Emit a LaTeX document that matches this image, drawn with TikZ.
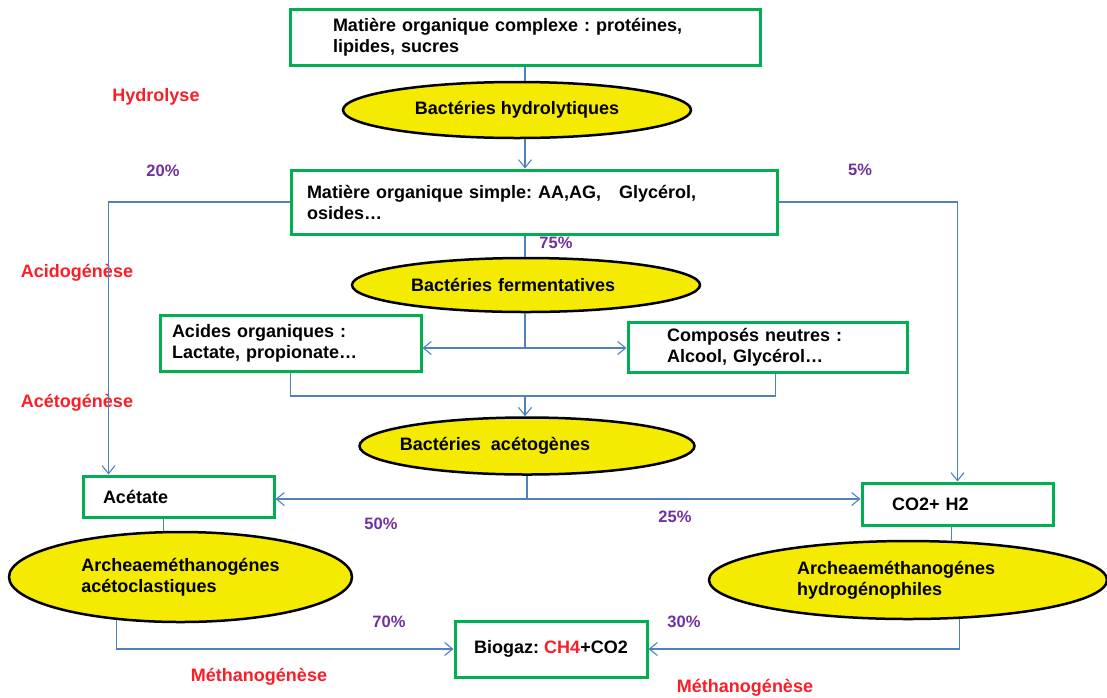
\documentclass[tikz,border=0pt]{standalone}
\usepackage{fontspec}
\setmainfont{Liberation Sans}
\usepackage{xcolor}
\usepackage{tikz}
\usetikzlibrary{shapes.geometric, arrows.meta}

\definecolor{boxgreen}{RGB}{0,176,80}
\definecolor{lineblue}{RGB}{79,129,189}
\definecolor{bactyellow}{RGB}{245,235,0}
\definecolor{phasered}{RGB}{250,30,40}
\definecolor{pctpurple}{RGB}{112,48,160}
\frenchspacing

\begin{document}
\begin{tikzpicture}[x=1pt, y=-1pt,
        font=\fontsize{18}{21}\selectfont\bfseries,
        box/.style={draw=boxgreen, line width=3pt, rectangle, inner sep=0pt, align=left},
        bact/.style={draw=black, line width=2.5pt, ellipse, fill=bactyellow, inner sep=0pt},
        phase/.style={text=phasered},
        pct/.style={text=pctpurple, font=\fontsize{16.5}{19}\selectfont\bfseries},
        link/.style={draw=lineblue, line width=1.1pt},
        flow/.style={link, -{Straight Barb[length=8pt,width=13pt]}}]
        \useasboundingbox (0,0) rectangle (1107,697);

        % Nodes for substrates and products
        \node [box, minimum width=470pt, minimum height=56pt, text width=384pt] (complex) at (525,37) {Matière organique complexe : protéines,\\lipides, sucres};
        \node [box, minimum width=486pt, minimum height=64pt, text width=454pt] (simple) at (534,202) {Matière organique simple: AA,AG,\ \ \ Glycérol,\\osides…};
        \node [box, minimum width=261pt, minimum height=56pt, text width=237pt] (acides) at (290.5,343) {Acides organiques :\\Lactate, propionate…};
        \node [box, minimum width=279pt, minimum height=50pt, text width=201pt] (neutres) at (767.5,347) {Composés neutres :\\Alcool, Glycérol…};
        \node [box, minimum width=191pt, minimum height=41pt, text width=151pt] (acetate) at (178.5,496.5) {Acétate};
        \node [box, minimum width=191pt, minimum height=42pt, text width=131pt] (co2) at (957.5,504) {CO2+ H2};
        \node [box, minimum width=192pt, minimum height=56pt] (biogaz) at (551,649) {Biogaz: \textcolor{phasered}{CH4}+CO2};

        % Nodes for bacteria
        \node [bact, minimum width=348pt, minimum height=56pt] (hydro) at (517,110) {Bactéries hydrolytiques};
        \node [bact, minimum width=348pt, minimum height=54pt, text width=230pt, align=left] (ferm) at (526,285) {Bactéries fermentatives};
        \node [bact, minimum width=335pt, minimum height=57pt] (aceto) at (527,446) {\hspace*{-64pt}Bactéries\ \ acétogènes};
        \node [bact, minimum width=343pt, minimum height=90pt, align=left] (acl) at (180.5,577) {Archeaeméthanogénes\\acétoclastiques};
        \node [bact, minimum width=398pt, minimum height=78pt, text width=222pt, align=left] (hyd) at (908,580) {Archeaeméthanogénes\\hydrogénophiles};

        % Phases and shares
        \node [phase] (hydrolyse) at (156,97) {Hydrolyse};
        \node [phase] (acidogenese) at (77,273) {Acidogénèse};
        \node [phase] (acetogenese) at (77,403) {Acétogénèse};
        \node [phase] (methanoA) at (259,677) {Méthanogénèse};
        \node [phase] (methanoB) at (745,688) {Méthanogénèse};
        \node [pct] (p20) at (163,171) {20\%};
        \node [pct] (p5) at (860,170) {5\%};
        \node [pct] (p75) at (556,243) {75\%};
        \node [pct] (p50) at (381,524) {50\%};
        \node [pct] (p25) at (675,517) {25\%};
        \node [pct] (p70) at (389,622) {70\%};
        \node [pct] (p30) at (684,622) {30\%};

        % Arrows
        \coordinate (axis) at (525,0);
        \coordinate (split) at (525,348);
        \coordinate (join) at (525,396);
        \coordinate (split2) at (527,499);
        \draw [link] (complex.south) -- (complex.south |- hydro.north);
        \draw [flow] (complex.south |- hydro.south) -- (complex.south |- simple.north);
        \draw [flow] (simple.west) -| ([xshift=27pt]acetate.north west);
        \draw [flow] (simple.east) -| (co2.north);
        \draw [link] (simple.south -| axis) -- (ferm.north -| axis);
        \draw [link] (ferm.south -| axis) -- (split);
        \draw [flow] (split) -- (acides.east |- split);
        \draw [flow] (split) -- (neutres.west |- split);
        \draw [link] (acides.south) |- (join) -| ([xshift=8pt]neutres.south);
        \draw [flow] (join) -- (join |- aceto.north);
        \draw [link] (aceto.south) -- (split2);
        \draw [flow] (split2) -- (acetate.east |- split2);
        \draw [flow] (split2) -- (co2.west |- split2);
        \draw [link] ([xshift=-15pt]acetate.south) -- ([xshift=-15pt]acetate.south |- acl.north);
        \draw [link] ([xshift=-6pt]co2.south) -- ([xshift=-6pt]co2.south |- hyd.north);
        \draw [flow] (acl.214) |- (biogaz.west);
        \draw [flow] (hyd.323) |- (biogaz.east);
\end{tikzpicture}
\end{document}
